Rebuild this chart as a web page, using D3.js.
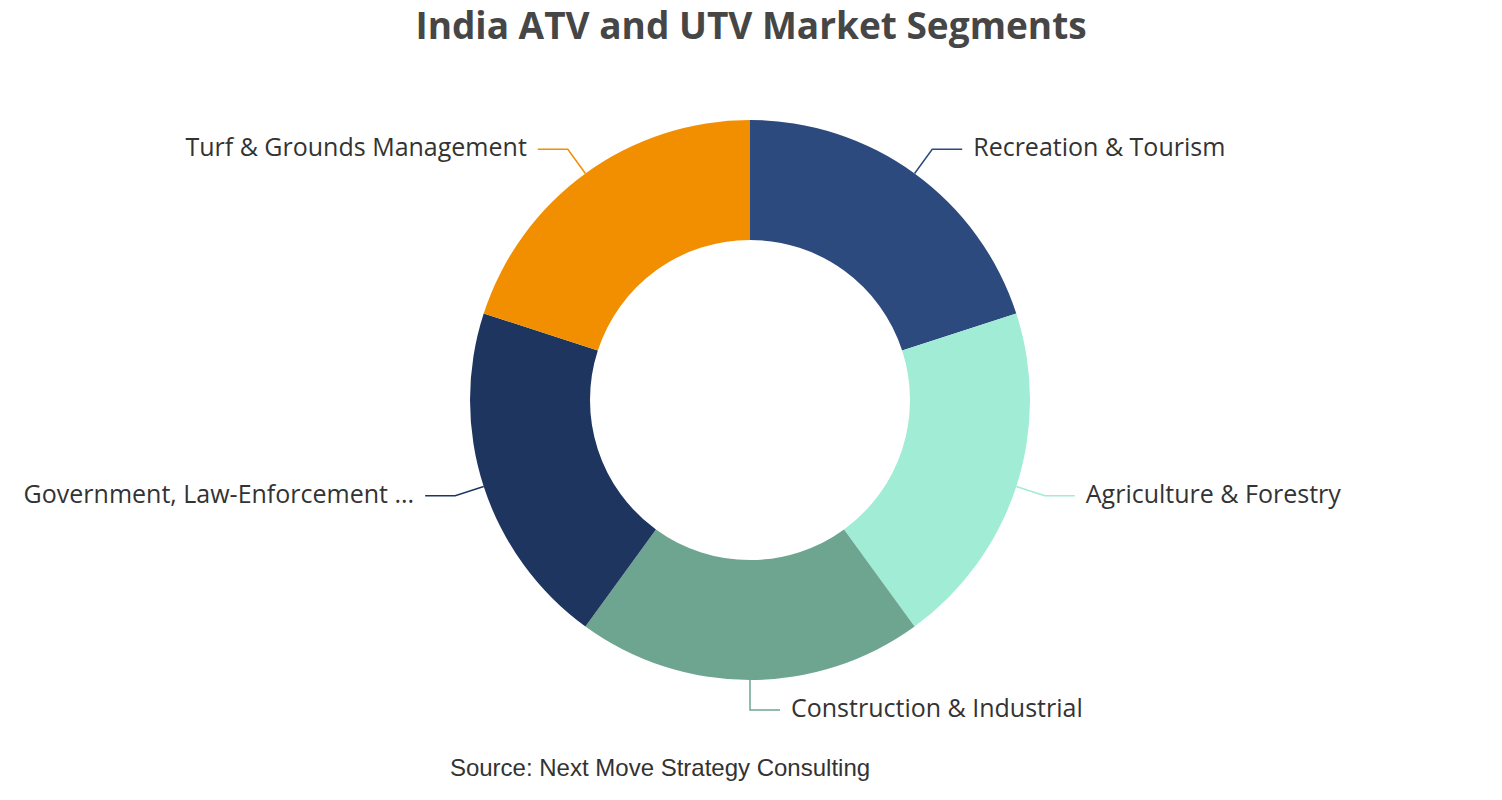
<!DOCTYPE html>
<html><head><meta charset="utf-8">
<script src="https://cdn.jsdelivr.net/npm/d3@7"></script>
<style>body{margin:0;background:#fff}</style>
</head><body>
<svg id="c" width="1502" height="800"></svg>
<script>
const categories = ["Recreation & Tourism","Agriculture & Forestry","Construction & Industrial","Government, Law-Enforcement ...","Turf & Grounds Management"];
const values = [20,20,20,20,20];
const colors = ["#2c4a7e","#a0ecd4","#6ea590","#1e3560","#f28f00"];
const titleText = "India ATV and UTV Market Segments";
const sourceText = "Source: Next Move Strategy Consulting";

const svg = d3.select("#c");
const cx = 750, cy = 400, rO = 280, rI = 160;
const g = svg.append("g").attr("transform",`translate(${cx},${cy})`);
const pie = d3.pie().sort(null).value(d=>d)(values);
const arc = d3.arc().innerRadius(rI).outerRadius(rO);
g.selectAll("path.s").data(pie).join("path").attr("class","s")
  .attr("d",arc).attr("fill",(d,i)=>colors[i]);

const len1 = 30, len2 = 30;
pie.forEach((d,i)=>{
  const a = (d.startAngle+d.endAngle)/2;
  const sx = Math.sin(a), sy = -Math.cos(a);
  const p0 = [rO*sx, rO*sy];
  const p1 = [(rO+len1)*sx, (rO+len1)*sy];
  const dir = sx > 1e-6 ? 1 : (sx < -1e-6 ? -1 : 1);
  const p2 = [p1[0]+dir*len2, p1[1]];
  g.append("polyline").attr("points",[p0,p1,p2].map(p=>p.join(",")).join(" "))
    .attr("fill","none").attr("stroke",colors[i]).attr("stroke-width",1.5);
  g.append("text").attr("x",p2[0]+dir*11).attr("y",p1[1]-3)
    .attr("text-anchor",dir>0?"start":"end").attr("dominant-baseline","central")
    .attr("font-family","'Open Sans', sans-serif").attr("font-size",25).attr("fill","#333")
    .text(categories[i]);
});

svg.append("text").attr("x",751).attr("y",24).attr("text-anchor","middle")
  .attr("dominant-baseline","central")
  .attr("font-family","'Open Sans', sans-serif").attr("font-weight","bold")
  .attr("font-size",37).attr("fill","#464646").text(titleText);
svg.append("text").attr("x",660).attr("y",767).attr("text-anchor","middle")
  .attr("dominant-baseline","central")
  .attr("font-family","'Liberation Sans', Arial, sans-serif")
  .attr("font-size",24).attr("fill","#333").text(sourceText);
</script>
</body></html>
